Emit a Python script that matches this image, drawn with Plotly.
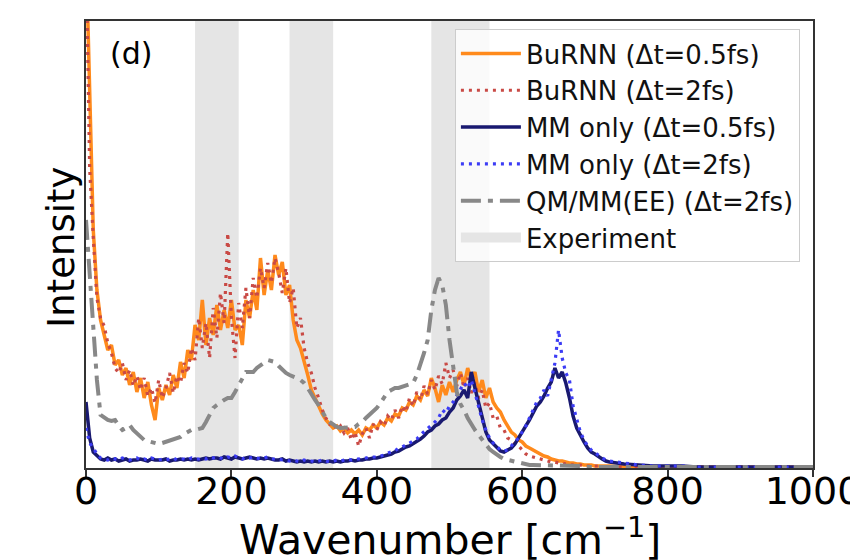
import plotly.graph_objects as go

# Wavenumber grid (cm^-1): every 5 up to 720, then every 20 to 1000
wavenumber = list(range(0, 721, 5)) + list(range(740, 1001, 20))

# Intensities (arbitrary units)
burnn_05 = [
    520, 370, 238, 178, 148, 133, 118, 123, 103, 108,   # 0-45
    93, 100, 83, 96, 76, 90, 70, 86, 63, 48,            # 50-95
    80, 68, 83, 73, 93, 80, 106, 90, 118, 108,          # 100-145
    143, 128, 168, 123, 150, 133, 163, 138, 158, 140,   # 150-195
    168, 138, 143, 123, 168, 150, 178, 158, 210, 173,   # 200-245
    198, 178, 213, 193, 206, 173, 183, 148, 128, 120,   # 250-295
    108, 93, 78, 70, 60, 54, 48, 44, 40, 42,            # 300-345
    37, 40, 35, 38, 34, 38, 33, 40, 38, 43,             # 350-395
    40, 46, 43, 50, 47, 54, 52, 60, 58, 66,             # 400-445
    63, 72, 68, 78, 72, 90, 80, 66, 83, 73,             # 450-495
    86, 76, 88, 96, 83, 100, 88, 96, 76, 88,            # 500-545
    70, 80, 66, 60, 56, 48, 42, 36, 33, 28,             # 550-595
    26, 22, 20, 18, 16, 14, 12, 11, 9, 8,               # 600-645
    7, 7, 6, 5, 5, 4, 4, 3, 3, 3,                       # 650-695
    2, 2, 2, 2, 2,                                      # 700-720
    1, 1, 1, 1, 1, 1, 1, 1, 1, 1, 1, 1, 1, 1,           # 740-1000
]

burnn_2 = [
    520, 300, 230, 170, 150, 142, 125, 115, 100, 95,    # 0-45
    105, 88, 98, 82, 92, 78, 90, 72, 80, 65,            # 50-95
    88, 70, 80, 95, 75, 92, 85, 105, 95, 120,           # 100-145
    108, 150, 120, 145, 110, 160, 130, 175, 145, 235,   # 150-195
    150, 110, 165, 140, 180, 150, 190, 170, 200, 180,   # 200-245
    205, 185, 210, 195, 175, 200, 165, 180, 140, 150,   # 250-295
    120, 105, 95, 80, 70, 58, 50, 44, 46, 38,           # 300-345
    42, 35, 40, 28, 36, 22, 34, 40, 30, 44,             # 350-395
    38, 46, 42, 52, 48, 58, 50, 62, 56, 70,             # 400-445
    62, 76, 68, 82, 74, 88, 78, 92, 84, 105,            # 450-495
    90, 98, 82, 95, 80, 90, 75, 85, 70, 78,             # 500-545
    60, 65, 50, 52, 40, 38, 30, 28, 24, 22,             # 550-595
    18, 14, 12, 11, 10, 9, 8, 7, 6, 6,                  # 600-645
    5, 5, 4, 4, 3, 3, 3, 2, 2, 2,                       # 650-695
    2, 2, 1, 1, 1,                                      # 700-720
    1, 1, 1, 1, 1, 1, 1, 1, 1, 1, 1, 1, 1, 1,           # 740-1000
]

mm_05 = [
    66, 30, 16, 12,                                              # 0-15
    9, 8, 10, 8, 9, 7, 8, 9, 7, 8, 8, 9, 8, 7, 9, 8, 8,           # 20-100
    8, 9, 7, 8, 8, 9, 8, 9, 8, 9, 8, 9, 10, 9, 10,                # 105-175
    10, 9, 11, 10, 9, 11, 10, 9, 10, 11, 10, 9, 10, 9, 10, 9, 8,  # 180-260
    8, 9, 7, 8, 7, 6, 7, 6, 7, 6, 7, 6, 7, 6, 7, 6,               # 265-340
    7, 6, 7, 7, 8, 7, 8, 8, 9, 9, 10, 10,                         # 345-400
    11, 12, 13, 14, 16, 17, 19, 21, 22, 24,                       # 405-450
    27, 29, 32, 36, 38, 42, 44, 48, 50, 56,                       # 455-500
    60, 68, 72, 78, 70, 96, 80, 65, 50, 36,                       # 505-550
    28, 24, 20, 17, 16, 18, 20, 24, 30, 35,                       # 555-600
    42, 48, 55, 62, 66, 72, 80, 86, 100, 90,                      # 605-650
    96, 85, 70, 52, 40, 32, 26, 20, 16, 14,                       # 655-700
    11, 9, 7, 6,                                                  # 705-720
    4, 3, 2, 2, 2, 1, 1, 1, 1, 1, 1, 1, 1, 1,                     # 740-1000
]

mm_2 = [
    40, 25, 20, 14,                                               # 0-15
    10, 9, 8, 10, 9, 8, 10, 9, 8, 9, 10, 8, 9, 8, 10, 9, 8,       # 20-100
    9, 8, 9, 10, 8, 9, 9, 8, 10, 9, 9, 10, 9, 11, 10,             # 105-175
    11, 10, 9, 11, 10, 12, 10, 9, 11, 10, 11, 10, 9, 10, 11, 9, 9,  # 180-260
    9, 8, 8, 7, 8, 7, 6, 8, 7, 7, 6, 7, 8, 7, 6, 7,               # 265-340
    8, 7, 8, 9, 8, 9, 9, 10, 10, 11, 11, 11,                      # 345-400
    12, 13, 15, 16, 17, 20, 21, 23, 25, 27,                       # 405-450
    29, 33, 36, 40, 42, 46, 50, 58, 55, 62,                       # 455-500
    66, 72, 78, 85, 80, 88, 75, 62, 48, 38,                       # 505-550
    30, 25, 21, 18, 17, 18, 22, 26, 30, 36,                       # 555-600
    42, 50, 58, 66, 70, 78, 72, 90, 105, 138,                     # 605-650
    110, 95, 88, 62, 48, 36, 28, 22, 18, 15,                      # 655-700
    12, 10, 8, 7,                                                 # 705-720
    5, 3, 2, 2, 2, 1, 1, 1, 1, 1, 1, 1, 1, 1,                     # 740-1000
]

qmmm_ee = [
    248, 198, 138, 88, 53, 50, 48, 47, 48, 42,          # 0-45
    38, 40, 43, 38, 35, 32, 28, 27, 26, 25,             # 50-95
    24, 25, 26, 27, 28, 30, 31, 34, 36, 38,             # 100-145
    38, 39, 40, 46, 53, 60, 63, 66, 68, 70,             # 150-195
    70, 76, 83, 90, 96, 96, 96, 100, 103, 106,          # 200-245
    108, 107, 106, 102, 98, 95, 93, 92, 90, 88,         # 250-295
    85, 80, 73, 68, 63, 56, 50, 46, 43, 41,             # 300-345
    40, 40, 40, 41, 41, 44, 46, 50, 53, 57,             # 350-395
    60, 65, 70, 76, 78, 80, 80, 81, 82, 84,             # 400-445
    85, 93, 103, 115, 128, 158, 178, 190, 183, 163,     # 450-495
    128, 98, 76, 64, 58, 50, 43, 38, 33, 28,            # 500-545
    23, 19, 16, 13, 11, 9, 8, 7, 6, 5,                  # 550-595
    4, 4, 3, 3, 3, 3, 2, 2, 2, 2,                       # 600-645
    2, 2, 2, 2, 2, 2, 2, 1, 1, 1,                       # 650-695
    1, 1, 1, 1, 1,                                      # 700-720
    1, 1, 1, 1, 1, 1, 1, 1, 1, 1, 1, 1, 1, 1,           # 740-1000
]

# Experimental band ranges (cm^-1)
exp_lo = [150, 280, 475]
exp_hi = [210, 340, 555]

x_ticks = [0, 200, 400, 600, 800, 1000]
x_range = [0, 1000]
y_range = [0, 447]

for name, s in [("burnn_05", burnn_05), ("burnn_2", burnn_2), ("mm_05", mm_05),
                ("mm_2", mm_2), ("qmmm_ee", qmmm_ee)]:
    assert len(s) == len(wavenumber), (name, len(s), len(wavenumber))

fig = go.Figure()

band_color = "#e5e5e5"

# Experiment shaded bands
bx, by = [], []
for lo, hi in zip(exp_lo, exp_hi):
    bx += [lo, lo, hi, hi, lo, None]
    by += [y_range[0], y_range[1], y_range[1], y_range[0], y_range[0], None]
fig.add_trace(go.Scatter(x=bx, y=by, mode="lines", fill="toself",
                         fillcolor=band_color, line=dict(width=0, color=band_color),
                         name="Experiment", showlegend=False, hoverinfo="skip"))
# legend swatch for the bands
fig.add_trace(go.Scatter(x=[None], y=[None], mode="lines",
                         line=dict(width=16, color=band_color),
                         name="Experiment", legendrank=6))

fig.add_trace(go.Scatter(x=wavenumber, y=burnn_05, mode="lines",
                         line=dict(color="#ff8a1c", width=3.5),
                         name="BuRNN (Δt=0.5fs)", legendrank=1))
fig.add_trace(go.Scatter(x=wavenumber, y=burnn_2, mode="lines",
                         line=dict(color="#c94a45", width=3.2, dash="3px,5px"),
                         name="BuRNN (Δt=2fs)", legendrank=2))
fig.add_trace(go.Scatter(x=wavenumber, y=mm_05, mode="lines",
                         line=dict(color="#191970", width=3.5),
                         name="MM only (Δt=0.5fs)", legendrank=3))
fig.add_trace(go.Scatter(x=wavenumber, y=mm_2, mode="lines",
                         line=dict(color="#3c3cf5", width=3.2, dash="3px,5px"),
                         name="MM only (Δt=2fs)", legendrank=4))
fig.add_trace(go.Scatter(x=wavenumber, y=qmmm_ee, mode="lines",
                         line=dict(color="#888888", width=4, dash="20px,7px,5px,7px"),
                         name="QM/MM(EE) (Δt=2fs)", legendrank=5))

# The page adds an 8 px body margin, so the margins are reduced by 8 px.
fig.update_layout(
    width=858, height=560,
    margin=dict(l=78, r=53, t=13, b=100),
    plot_bgcolor="white", paper_bgcolor="white",
    font=dict(family="DejaVu Sans", color="black"),
    showlegend=True,
    legend=dict(
        x=0.982, xanchor="right", y=0.982, yanchor="top",
        font=dict(size=26, family="DejaVu Sans", color="#111111"),
        bgcolor="rgba(255,255,255,0.8)", bordercolor="#cccccc", borderwidth=1,
        itemwidth=60, tracegroupgap=0,
    ),
    xaxis=dict(
        range=x_range, tickvals=x_ticks, ticks="outside", ticklen=7, tickwidth=1.5,
        tickcolor="#333333", showline=True, linecolor="#333333", linewidth=1.5,
        mirror=True, showgrid=False, zeroline=False,
        tickfont=dict(size=38, family="DejaVu Sans", color="black"),
        ticklabelstandoff=-18, ticklabeloverflow="allow",
        automargin=False,
    ),
    yaxis=dict(
        range=y_range, showticklabels=False, ticks="", showline=True,
        linecolor="#333333", linewidth=1.5, mirror=True, showgrid=False,
        zeroline=False, automargin=False,
    ),
    annotations=[
        dict(text="Wavenumber [cm<sup>−1</sup>]", xref="paper", yref="paper",
             x=0.5, y=-0.155, xanchor="center", yanchor="middle", showarrow=False,
             font=dict(size=41, family="DejaVu Sans", color="black")),
        dict(text="Intensity", textangle=-90, xref="paper", yref="paper",
             x=-0.033, y=0.493, xanchor="center", yanchor="middle", showarrow=False,
             font=dict(size=37, family="DejaVu Sans", color="black")),
        dict(text="(d)", xref="paper", yref="paper", x=0.03, y=0.928,
             xanchor="left", yanchor="middle", showarrow=False,
             font=dict(size=30, family="DejaVu Sans", color="black")),
    ],
)

fig.write_html("out.html")
